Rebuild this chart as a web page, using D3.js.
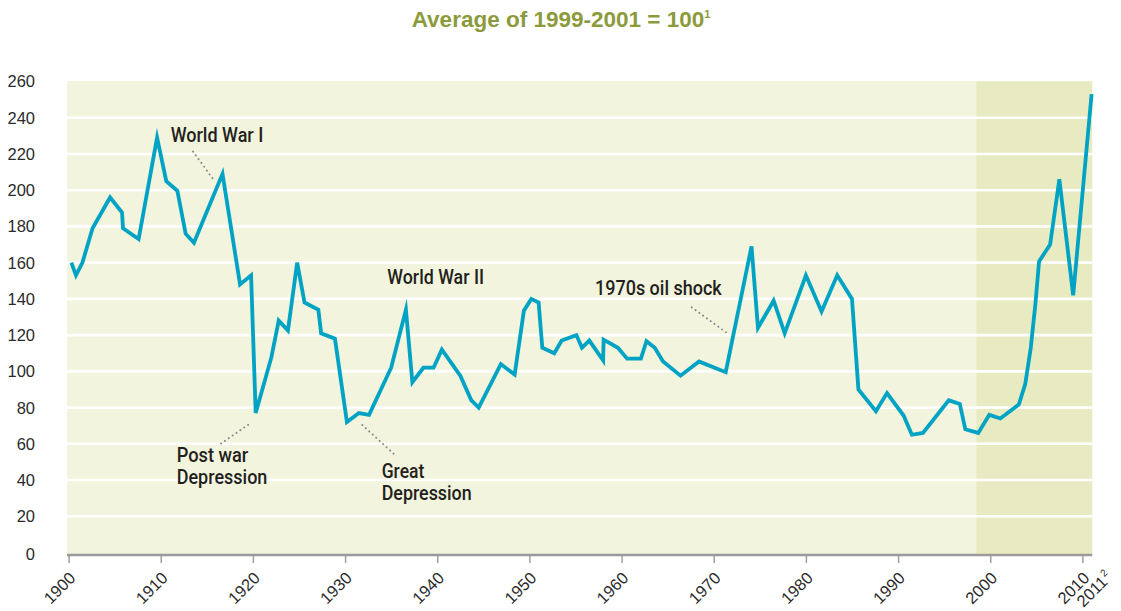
<!DOCTYPE html>
<html>
<head>
<meta charset="utf-8">
<script src="https://cdn.jsdelivr.net/npm/d3@7"></script>
<style>
  html, body { margin: 0; padding: 0; background: #ffffff; }
  svg { display: block; }
</style>
</head>
<body>
<svg id="chart" width="1121" height="611"></svg>
<script>
// ---- data ----
const years = [1900.3,1900.8,1901.5,1902.6,1904.5,1905.8,1905.9,1907.6,1909.6,1910.6,1911.8,1912.7,1913.6,1916.7,1918.6,1919.8,1920.3,1922.0,1922.8,1923.8,1924.8,1925.6,1927.1,1927.4,1928.9,1930.2,1931.5,1932.6,1935.0,1936.6,1937.3,1938.5,1939.6,1940.5,1942.5,1943.7,1944.5,1946.9,1948.4,1949.4,1950.2,1951.0,1951.4,1952.7,1953.5,1955.1,1955.7,1956.5,1958.0,1958.05,1959.6,1960.6,1962.1,1962.7,1963.6,1964.5,1966.4,1968.4,1971.3,1974.1,1974.8,1976.5,1977.7,1980.0,1981.7,1983.4,1985.0,1985.7,1987.6,1988.8,1990.6,1991.5,1992.7,1995.5,1996.7,1997.3,1998.7,1999.9,2001.1,2003.1,2003.8,2004.4,2004.9,2005.3,2006.5,2007.5,2009.0,2011.0];
const priceIndex = [160,153,160,179,196,187.7,179,173,229,205,199.7,176,171,209,148,153,77,107.7,128,122.5,160,138,134,121,118,72,77,76,102,134,94,102,102,112,97.6,84,80,104,98.2,133.5,140,138,113,110,117,120,113,117,106,117.5,113,107,107,116.6,113,105.5,97.6,105.5,99.5,169,124,139,121,153,133,153,140,90,78,88,75.6,65,66,84,82,68,66,76,74,81.7,93,113,137,160.7,170,206,142,253];
const xTickYears = [1900,1910,1920,1930,1940,1950,1960,1970,1980,1990,2000,2010];
const xTickLabels = ["1900","1910","1920","1930","1940","1950","1960","1970","1980","1990","2000","2010"];
const lastYear = 2011;
const lastYearLabel = "2011";
const lastYearNote = "2";
const yTicks = [0,20,40,60,80,100,120,140,160,180,200,220,240,260];
const shadeStart = 1998.5;
const titleText = "Average of 1999-2001 = 100";
const titleNote = "1";
const annotations = [
  {lines:["World War I"], widths:[92.6], x:170.7, y:141.5, leader:[[193,151.5],[214.5,181]]},
  {lines:["World War II"], widths:[96.7], x:387.3, y:283.5, leader:null},
  {lines:["Post war","Depression"], widths:[71.6,90.7], x:176.7, y:462, leader:[[221,443.5],[250,423.5]]},
  {lines:["Great","Depression"], widths:[42.6,90], x:381.7, y:477.5, leader:[[362.3,425],[395,455]]},
  {lines:["1970s oil shock"], widths:[126.7], x:595, y:295, leader:[[691.7,307.3],[729,334.5]]}
];

// ---- layout ----
const svg = d3.select("#chart");
const x = d3.scaleLinear().domain([1900, 2011]).range([68.6, 1091.6]);
const y = d3.scaleLinear().domain([0, 260]).range([552.5, 81.5]);

const plotLeft = x(1900) - 1.6, plotRight = x(lastYear) + 0.6;
const plotTop = y(260) - 0.3, plotBottom = 554.5;

// background
svg.append("rect")
  .attr("x", plotLeft).attr("y", plotTop)
  .attr("width", plotRight - plotLeft).attr("height", plotBottom - plotTop)
  .attr("fill", "#f2f4dd");
svg.append("rect")
  .attr("x", x(shadeStart)).attr("y", plotTop)
  .attr("width", plotRight - x(shadeStart)).attr("height", plotBottom - plotTop)
  .attr("fill", "#e8ebc2");

// gridlines
svg.append("g").selectAll("line")
  .data(yTicks.filter(d => d > 0 && d < 260))
  .join("line")
  .attr("x1", plotLeft).attr("x2", plotRight)
  .attr("y1", d => y(d)).attr("y2", d => y(d))
  .attr("stroke", "#ffffff").attr("stroke-width", 2.6);

// y labels
svg.append("g").selectAll("text")
  .data(yTicks)
  .join("text")
  .attr("x", 35).attr("y", d => y(d) + (d === 0 ? 2 : 0))
  .attr("dy", "0.36em")
  .attr("text-anchor", "end")
  .attr("font-family", "'Liberation Sans', Arial, sans-serif")
  .attr("font-size", 16.5)
  .attr("fill", "#2b2b2b")
  .text(d => d);

// x axis
const xAxis = d3.axisBottom(x)
  .tickValues(xTickYears)
  .tickSize(8)
  .tickFormat("");
const gx = svg.append("g").attr("transform", `translate(0,${plotBottom + 0.5})`).call(xAxis);
gx.select(".domain").attr("stroke", "#9a9a9a").attr("stroke-width", 2.4)
  .attr("d", `M${plotLeft},0H${plotRight}`);
gx.selectAll(".tick line").attr("stroke", "#9a9a9a").attr("stroke-width", 1.4);

const xl = svg.append("g");
xTickYears.forEach((yr, i) => {
  xl.append("text")
    .attr("transform", `translate(${x(yr) + 8},579) rotate(-45)`)
    .attr("text-anchor", "end")
    .attr("font-family", "'Liberation Sans', Arial, sans-serif")
    .attr("font-size", 16.5)
    .attr("fill", "#2b2b2b")
    .text(xTickLabels[i]);
});
const lastG = xl.append("g").attr("transform", `translate(${x(lastYear) + 17},583) rotate(-45)`);
lastG.append("text")
  .attr("text-anchor", "end")
  .attr("font-family", "'Liberation Sans', Arial, sans-serif")
  .attr("font-size", 16.5).attr("fill", "#2b2b2b")
  .text(lastYearLabel);
lastG.append("text")
  .attr("x", 1).attr("y", -7)
  .attr("font-family", "'Liberation Sans', Arial, sans-serif")
  .attr("font-size", 10).attr("fill", "#2b2b2b")
  .text(lastYearNote);

// leaders
const leaderLine = d3.line();
annotations.forEach(a => {
  if (a.leader) {
    svg.append("path")
      .attr("d", leaderLine(a.leader))
      .attr("fill", "none")
      .attr("stroke", "#8a8a8a")
      .attr("stroke-width", 2)
      .attr("stroke-linecap", "round")
      .attr("stroke-dasharray", "0.1,4.6");
  }
});

// line
const line = d3.line().x((d, i) => x(years[i])).y(d => y(d)).curve(d3.curveLinear);
svg.append("path")
  .datum(priceIndex)
  .attr("d", line)
  .attr("fill", "none")
  .attr("stroke", "#00a3c4")
  .attr("stroke-width", 3.8)
  .attr("stroke-linejoin", "miter")
  .attr("stroke-miterlimit", 6);

// annotations text
annotations.forEach(a => {
  a.lines.forEach((ln, i) => {
    svg.append("text")
      .attr("x", a.x).attr("y", a.y + i * 22)
      .attr("font-family", "Roboto, 'Liberation Sans', Arial, sans-serif")
      .attr("font-weight", 500)
      .attr("font-size", 19.5)
      .attr("fill", "#231f20")
      .attr("textLength", a.widths[i])
      .attr("lengthAdjust", "spacingAndGlyphs")
      .text(ln);
  });
});

// title
const title = svg.append("text")
  .attr("x", 561).attr("y", 27)
  .attr("text-anchor", "middle")
  .attr("font-family", "'Liberation Sans', Arial, sans-serif")
  .attr("font-weight", "bold")
  .attr("font-size", 22.5)
  .attr("fill", "#8b9b3c");
title.append("tspan").text(titleText);
title.append("tspan").attr("font-size", 11).attr("dy", -9).text(titleNote);
</script>
</body>
</html>
